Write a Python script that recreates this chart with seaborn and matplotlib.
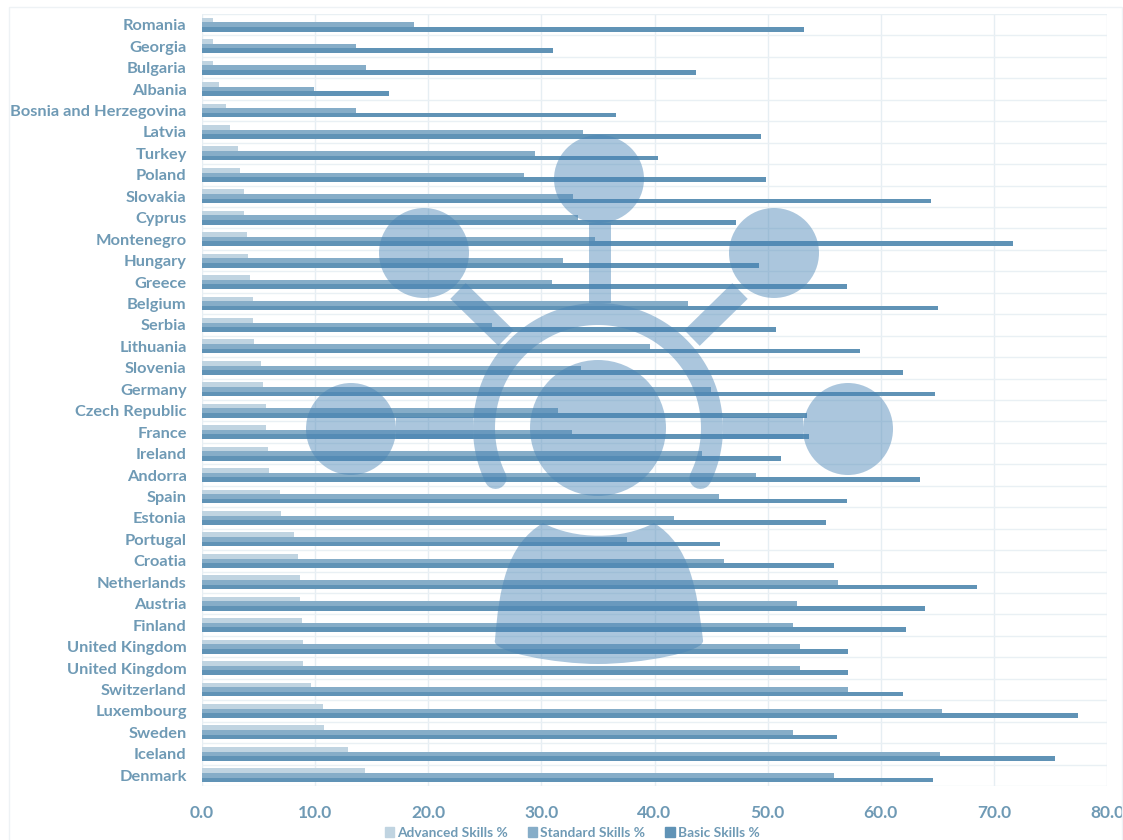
import numpy as np
import pandas as pd
import matplotlib
matplotlib.use("Agg")
import matplotlib.pyplot as plt
import seaborn as sns
from matplotlib.patches import Ellipse, PathPatch, Rectangle
from matplotlib.path import Path

countries = ["Romania","Georgia","Bulgaria","Albania","Bosnia and Herzegovina","Latvia","Turkey","Poland","Slovakia","Cyprus","Montenegro","Hungary","Greece","Belgium","Serbia","Lithuania","Slovenia","Germany","Czech Republic","France","Ireland","Andorra","Spain","Estonia","Portugal","Croatia","Netherlands","Austria","Finland","United Kingdom","United Kingdom","Switzerland","Luxembourg","Sweden","Iceland","Denmark"]
advanced = [1.0,1.0,1.0,1.5,2.1,2.5,3.2,3.4,3.7,3.7,4.0,4.1,4.2,4.5,4.5,4.6,5.2,5.4,5.7,5.7,5.8,5.9,6.9,7.0,8.1,8.5,8.7,8.7,8.8,8.9,8.9,9.6,10.7,10.8,12.9,14.4]
standard = [18.7,13.6,14.5,9.9,13.6,33.7,29.4,28.5,32.8,33.2,34.7,31.9,30.9,43.0,25.6,39.6,33.5,45.0,31.5,32.7,44.2,49.0,45.7,41.7,37.6,46.1,56.2,52.6,52.2,52.9,52.9,57.1,65.4,52.2,65.2,55.9]
basic = [53.2,31.0,43.7,16.5,36.6,49.4,40.3,49.9,64.4,47.2,71.7,49.2,57.0,65.1,50.7,58.2,62.0,64.8,53.5,53.7,51.2,63.5,57.0,55.2,45.8,55.9,68.5,63.9,62.2,57.1,57.1,62.0,77.4,56.1,75.4,64.6]
series_names = ["Advanced Skills %","Standard Skills %","Basic Skills %"]
series_colors = ["#c0d4e1","#86adc8","#6093b6"]
x_ticks = [0,10,20,30,40,50,60,70,80]

W, H = 1123, 840
TXT = "#6f9ab5"
sns.set_theme(style="white")
plt.rcParams["font.family"] = ["Lato", "DejaVu Sans"]

fig = plt.figure(figsize=(W/100, H/100), dpi=100, facecolor="white")
ax = fig.add_axes([202/W, 1-786/H, (1107-202)/W, (786-14)/H])

df = pd.DataFrame({"row": list(range(len(countries))) * 3,
                   "value": advanced + standard + basic,
                   "series": np.repeat(series_names, len(countries))})
sns.barplot(data=df, y="row", x="value", hue="series", hue_order=series_names,
            palette=series_colors, orient="y", width=0.65, gap=0, saturation=1,
            linewidth=0, ax=ax, zorder=3)

ax.set_xlim(0, 80)
ax.set_ylim(len(countries)-0.5, -0.5)
ax.set_xticks(x_ticks)
ax.set_xticklabels([f"{v:.1f}" for v in x_ticks], fontsize=12.5, fontweight="bold", color=TXT)
ax.set_yticks(range(len(countries)))
ax.set_yticklabels(countries, fontsize=11.8, fontweight="bold", color=TXT)
ax.set_xlabel(""); ax.set_ylabel("")
ax.tick_params(axis="x", length=0, pad=14)
ax.tick_params(axis="y", length=0, pad=11)
ax.set_axisbelow(True)
ax.grid(axis="x", color="#e6eef3", lw=1)
for b in np.arange(-0.5, len(countries)):
    ax.axhline(b, color="#e9f0f4", lw=1, zorder=1)
for s in ax.spines.values():
    s.set_visible(False)

ax.get_legend().remove()
handles = [Rectangle((0,0),1,1,color=c) for c in series_colors]
fig.legend(handles, series_names, loc="center", bbox_to_anchor=(572/W, 1-833/H), ncol=3,
           frameon=False, handlelength=0.7, handleheight=0.7, handletextpad=0.2,
           columnspacing=1.45, prop={"size":9.9,"weight":"bold"}, labelcolor=TXT)

# translucent watermark icon, in pixel coordinates
ov = fig.add_axes([0,0,1,1], facecolor="none")
ov.set_xlim(0, W); ov.set_ylim(H, 0); ov.axis("off"); ov.set_zorder(5)
IC = "#4682b4"; A = 0.45
for cx, cy, rx, ry in [(599,179,45,44),(424,253,45,45),(774,253,45,45),(351,429,45,46),(848,429,45,46),(598,428,68,68)]:
    ov.add_patch(Ellipse((cx,cy),2*rx,2*ry,fc=IC,ec="none",alpha=A))
lw = 22*72/100
def stroke(xs, ys, w=lw, cap="butt"):
    ov.plot(xs, ys, color=IC, alpha=A, lw=w, solid_capstyle=cap)
th = np.radians(np.linspace(206, -26, 120))
stroke(598+114*np.cos(th), 428-114*np.sin(th), cap="round")
stroke([599.5,599.5],[223,303])
stroke([458,506],[291,338]); stroke([740,692],[291,338])
stroke([396,473],[428,428]); stroke([723,803],[428,428])
verts = [(543,523),(575,540),(622,540),(654,523),
         (690,545),(697,590),(703,640),
         (706,652),(640,664),(598,664),(556,664),(490,652),(495,640),
         (499,590),(506,545),(543,523),(543,523)]
codes = [Path.MOVETO,Path.CURVE4,Path.CURVE4,Path.CURVE4,
         Path.CURVE4,Path.CURVE4,Path.CURVE4,
         Path.CURVE4,Path.CURVE4,Path.CURVE4,Path.CURVE4,Path.CURVE4,Path.CURVE4,
         Path.CURVE4,Path.CURVE4,Path.CURVE4,Path.CLOSEPOLY]
ov.add_patch(PathPatch(Path(verts,codes),fc=IC,ec="none",alpha=A))
ov.add_patch(Rectangle((9,7),W-10,H-6,fc="none",ec="#eef2f5",lw=1))

fig.savefig("out.png", dpi=100)
